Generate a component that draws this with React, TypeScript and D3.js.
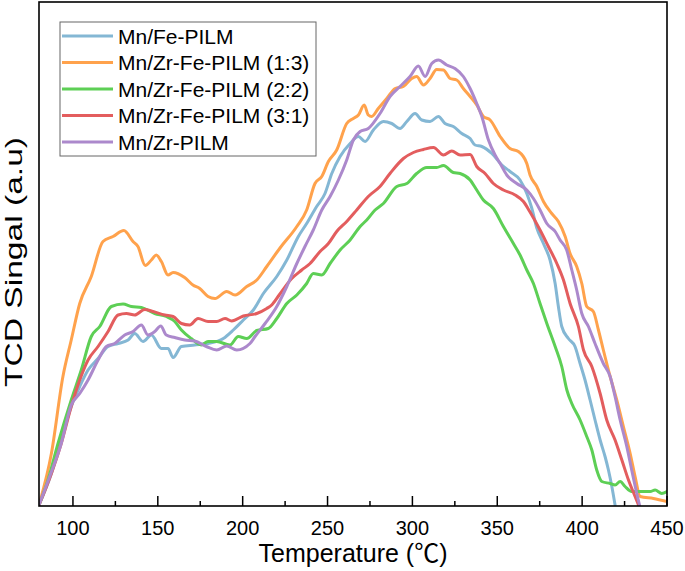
import React from "react";
import * as d3 from "d3";

const seriesNames = ["Mn/Fe-PILM", "Mn/Zr-Fe-PILM (1:3)", "Mn/Zr-Fe-PILM (2:2)", "Mn/Zr-Fe-PILM (3:1)", "Mn/Zr-PILM"];
const seriesColors = ["#84B7D4", "#FFA24C", "#5DCF55", "#E35D5E", "#AC89CC"];

const mnFe: [number, number][] = [
  [80, 0.2], [87.3, 6.5], [93.1, 13.2], [99, 19.9], [104, 23.9], [108.9, 27.2], [114.8, 29.5], [120.7, 31.9],
  [126.6, 32.5], [132.5, 33.2], [136.4, 34.5], [141.3, 32.9], [146.2, 34.2], [152.1, 31.5], [156, 31.5],
  [159, 29.7], [163.9, 31.9], [171.7, 32.2], [179.6, 32.5], [188.6, 33.5], [194.5, 35.2], [200.4, 37.2],
  [206.3, 39.2], [212.2, 42.5], [220.1, 45.9], [226, 49.2], [232.8, 53.9], [237.7, 56.5], [243.6, 59.9],
  [248.5, 62.5], [252.5, 66.5], [257.4, 69.9], [263.3, 72.5], [268.2, 73.9], [272.1, 72.9], [277, 75.2],
  [282.9, 76.9], [287.8, 76.5], [292.7, 75.5], [296.7, 76.9], [301.6, 78.5], [305.5, 77.2], [310.4, 76.9],
  [315.3, 77.9], [319.2, 76.5], [324.1, 75.9], [329.1, 74.5], [334, 73.5], [336.9, 72.2], [340.9, 71.9],
  [346.8, 70.5], [352.7, 68.2], [357.5, 66.9], [363.4, 65.2], [367.4, 62.5], [370.3, 59.6], [373.3, 55.6],
  [377.2, 52.5], [381.1, 49.2], [384.1, 44.5], [386, 39.9], [388, 35.9], [391.9, 33.5], [395.8, 31.9],
  [398.8, 28.5], [401.7, 25.2], [404.7, 21.2], [407.6, 17.2], [410.6, 13.2], [413.5, 9.9], [415.5, 7.2],
  [417.5, 3.9], [419.4, 0.2],
];

const mnZrFe13: [number, number][] = [
  [80, 0.2], [87.3, 10.5], [94.1, 25.9], [99, 33.2], [104, 40.5], [110.8, 45.9], [117.7, 52.9], [123.6, 53.9],
  [130, 55.1], [135.4, 52.9], [138.3, 51.9], [142.6, 48.1], [146.2, 49.2], [149.1, 50.2], [152.1, 48.9],
  [156, 46.2], [159, 46.7], [165.8, 45.7], [170.7, 44.2], [174.7, 43.5], [179.6, 41.9], [183.7, 41.5],
  [190.6, 42.9], [195.5, 42.2], [202.4, 43.9], [208.3, 45.2], [214.2, 47.9], [222, 51.6], [231.9, 55.9],
  [237.7, 59.2], [242.6, 64.5], [246.6, 65.9], [250.5, 68.9], [255.4, 71.2], [261.3, 76.5], [265.2, 77.5],
  [268.2, 78.2], [271.6, 80.2], [274, 78.2], [276, 77.9], [279.9, 79.5], [284.9, 81.5], [289.8, 83.5],
  [294.7, 83.9], [299.6, 85.5], [302.5, 85.9], [306.5, 84.2], [310.4, 85.5], [314.3, 87.3], [318.3, 87.2],
  [322.2, 85.5], [326.1, 85.2], [330, 83.5], [334, 81.9], [337.9, 80.2], [341.8, 77.9], [345.8, 77.2],
  [351.7, 73.9], [357.5, 71.5], [362.4, 70.9], [367.4, 68.5], [369.3, 66.2], [373.3, 63.9], [377.2, 60.9],
  [382.1, 58.5], [386, 56.9], [390, 53.9], [392.9, 50.5], [396.8, 47.9], [399.8, 44.5], [402.7, 39.9],
  [406.6, 38.9], [409.6, 35.2], [412.5, 31.2], [416.5, 25.9], [420.4, 21.2], [424.3, 15.9], [428.3, 10.5],
  [431.2, 5.9], [434.2, 1.9], [442, 1.5], [450, 0.9],
];

const mnZrFe22: [number, number][] = [
  [80, 0.2], [85.3, 5.2], [91.2, 12.5], [99, 21.2], [104.9, 27.2], [110.8, 33.9], [115.8, 35.9], [122.6, 39.9],
  [129.5, 40.4], [134.4, 39.9], [140.3, 39.7], [148.2, 38.5], [155, 37.9], [160, 36.9], [163.9, 35.2],
  [169.7, 33.5], [175.6, 32.2], [179.6, 32.9], [184.7, 32.9], [192.5, 32.2], [197.4, 33.9], [202.4, 33.5],
  [208.3, 35.1], [215.1, 35.5], [220.1, 37.5], [226, 40.5], [231.9, 42.2], [237.7, 44.5], [241.6, 46.5],
  [246.6, 46.2], [251.5, 48.5], [257.4, 51.2], [263.3, 53.2], [269.2, 55.9], [273.1, 57.2], [278, 59.2],
  [282.9, 60.5], [290.8, 63.9], [296.7, 64.5], [302.5, 66.5], [308.5, 67.7], [314.3, 67.7], [318.3, 68.1],
  [324.1, 66.7], [328.1, 66.5], [334, 65.2], [337.9, 63.2], [341.8, 61.2], [347.7, 59.5], [353.6, 55.9],
  [359.5, 52.5], [363.4, 50.2], [367.4, 47.2], [371.3, 44.5], [375.2, 40.5], [379.2, 36.5], [384.1, 31.9],
  [388, 27.9], [391, 23.2], [393.9, 20.5], [398.8, 17.2], [402.7, 13.9], [405.7, 11.2], [408.6, 7.2],
  [411.6, 4.9], [416.5, 4.5], [419.4, 4.2], [422.4, 4.9], [425.3, 3.9], [429.2, 2.9], [434.2, 2.9],
  [440.1, 2.9], [443, 3.2], [446.9, 2.5], [450, 2.9],
];

const mnZrFe31: [number, number][] = [
  [80, 0.2], [87.3, 6.5], [93.1, 12.5], [99, 19.9], [104, 25.2], [108.9, 29.2], [114.8, 31.9], [120.7, 34.9],
  [126.6, 38.2], [131.5, 38.5], [136.4, 38.2], [142.3, 39.3], [147.2, 38.9], [154.1, 38.2], [159, 37.9],
  [163.9, 36.5], [168.8, 36.2], [173.7, 37.5], [179.6, 36.9], [184.7, 36.9], [189.6, 37.5], [193.5, 37.0],
  [200.4, 38.0], [208.3, 38.5], [214.2, 39.5], [217.1, 40.2], [221.5, 42.2], [228.9, 45.5], [234.8, 47.2],
  [239.7, 48.5], [245.6, 50.9], [250.5, 52.5], [255.4, 54.9], [261.3, 56.9], [267.2, 59.2], [274, 61.9],
  [280.9, 63.9], [286.8, 66.5], [294.7, 69.5], [300.6, 70.7], [306.5, 71.3], [312.4, 71.7], [318.3, 70.2],
  [323.2, 71.0], [328.1, 70.2], [334, 70.3], [337.9, 67.9], [342.8, 66.5], [347.7, 64.5], [353.6, 63.2],
  [360.5, 62.2], [365.4, 60.9], [369.3, 58.8], [375.2, 55.2], [380.1, 51.9], [385.1, 48.5], [389, 45.2],
  [392.9, 40.5], [397.8, 35.9], [400.8, 31.2], [405.7, 27.9], [410.6, 22.5], [414.5, 17.2], [419.4, 13.2],
  [423.4, 9.2], [427.3, 5.2], [431.2, 1.9], [433.2, 0.2],
];

const mnZr: [number, number][] = [
  [80, 0.2], [86.3, 5.9], [93.1, 12.5], [99, 20.2], [104, 22.5], [108.9, 25.2], [114.8, 29.2], [119.7, 31.9],
  [124.6, 32.5], [130.5, 34.2], [135.4, 34.9], [140.3, 36.2], [144.2, 34.2], [148.2, 34.9], [151.7, 36.0],
  [155, 34.2], [160, 33.7], [165.9, 33.2], [171.7, 33.0], [178.6, 31.9], [184.7, 31.2], [190.6, 32.0],
  [196.5, 31.2], [204.3, 32.5], [207.3, 33.9], [213.2, 36.5], [220.1, 39.9], [226, 43.9], [231.9, 48.5],
  [236.7, 51.9], [241.6, 55.2], [246.6, 59.2], [251.5, 61.9], [256.4, 65.2], [261.3, 69.2], [265.2, 73.2],
  [269.2, 74.9], [274, 75.5], [280.9, 78.5], [286.8, 81.9], [292.7, 83.9], [298.6, 85.9], [303.5, 88.0],
  [307.5, 85.9], [311.4, 88.5], [315.3, 89.2], [320.2, 88.2], [325.1, 87.5], [330, 85.9], [334, 83.5],
  [337.9, 80.5], [340.9, 77.9], [344.8, 73.2], [348.7, 70.2], [351.7, 68.5], [355.6, 66.2], [361.5, 64.5],
  [367.4, 63.2], [371.3, 61.5], [375.2, 59.2], [379.2, 56.5], [384.1, 54.9], [387, 53.2], [390.9, 51.2],
  [393.9, 47.2], [396.8, 43.2], [399.8, 38.5], [403.7, 35.9], [407.6, 32.5], [412.5, 28.5], [416.5, 25.9],
  [419.4, 21.9], [422.4, 17.2], [426.3, 11.9], [429.2, 7.2], [432.2, 2.5], [433.8, 0.2],
];

const seriesData = [mnFe, mnZrFe13, mnZrFe22, mnZrFe31, mnZr];

const majorTicks = [100, 150, 200, 250, 300, 350, 400, 450];
const minorTicks = [125, 175, 225, 275, 325, 375, 425];

const xTitle = "Temperature (\u2103)";
const yTitle = "TCD Singal (a.u)";

const W = 685;
const H = 571;
const left = 39;
const right = 667;
const top = 2;
const bottom = 506;
const font = "'Liberation Sans', Arial, 'Noto Sans CJK SC', sans-serif";

export default function App() {
  const x = d3.scaleLinear().domain([80, 450]).range([left, right]);
  const y = d3.scaleLinear().domain([0, 100.8]).range([bottom, top]);
  const line = d3
    .line<[number, number]>()
    .x((d) => x(d[0]))
    .y((d) => y(d[1]))
    .curve(d3.curveMonotoneX);

  const legendX = 60;
  const legendY = 22;
  const rowH = 26.5;

  return (
    <svg
      width={W}
      height={H}
      viewBox={`0 0 ${W} ${H}`}
      style={{ position: "absolute", left: 0, top: 0, background: "#fff" }}
    >
      <rect x={0} y={0} width={W} height={H} fill="#fff" />
      <defs>
        <clipPath id="plot">
          <rect x={left} y={top} width={right - left} height={bottom - top} />
        </clipPath>
      </defs>
      <g clipPath="url(#plot)">
        {seriesData.map((d, i) => (
          <path
            key={i}
            d={line(d) || ""}
            fill="none"
            stroke={seriesColors[i]}
            strokeWidth={3}
            strokeLinejoin="round"
            strokeLinecap="round"
          />
        ))}
      </g>
      {/* frame */}
      <rect x={left} y={top} width={right - left} height={bottom - top} fill="none" stroke="#000" strokeWidth={1.6} />
      {/* ticks */}
      {majorTicks.map((t) => (
        <g key={"M" + t}>
          <line x1={x(t)} x2={x(t)} y1={bottom} y2={bottom - 10} stroke="#000" strokeWidth={1.5} />
          <text x={x(t)} y={535} textAnchor="middle" fontFamily={font} fontSize={20} fill="#000">
            {t}
          </text>
        </g>
      ))}
      {minorTicks.map((t) => (
        <line key={"m" + t} x1={x(t)} x2={x(t)} y1={bottom} y2={bottom - 5} stroke="#000" strokeWidth={1.5} />
      ))}
      <text x={(left + right) / 2} y={562} textAnchor="middle" fontFamily={font} fontSize={25} fill="#000">
        {xTitle}
      </text>
      <text
        transform={`translate(22, 262) rotate(-90)`}
        textAnchor="middle"
        fontFamily={font}
        fontSize={24}
        textLength={250}
        lengthAdjust="spacingAndGlyphs"
        fill="#000"
      >
        {yTitle}
      </text>
      {/* legend */}
      <rect x={legendX} y={legendY} width={256} height={134} fill="#fff" stroke="#666" strokeWidth={1} />
      {seriesNames.map((n, i) => {
        const cy = 36 + i * rowH;
        return (
          <g key={n}>
            <line x1={62} x2={113} y1={cy} y2={cy} stroke={seriesColors[i]} strokeWidth={3} />
            <text x={118} y={cy + 7.5} fontFamily={font} fontSize={21} fill="#000">
              {n}
            </text>
          </g>
        );
      })}
    </svg>
  );
}
